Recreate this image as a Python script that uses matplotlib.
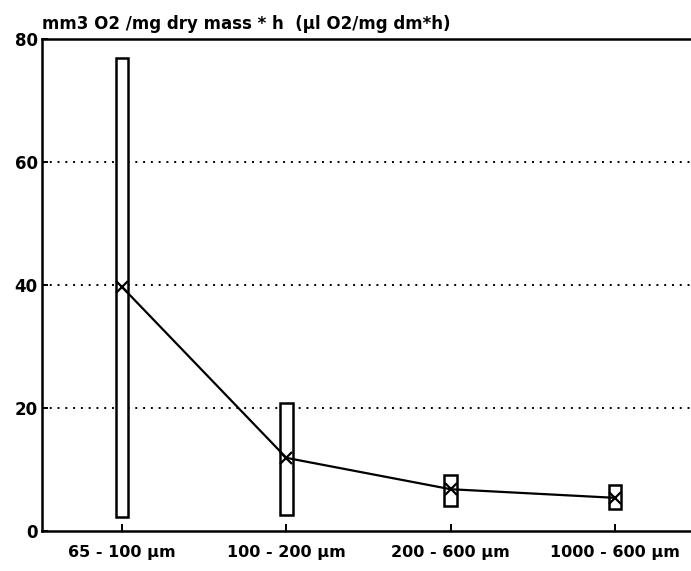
import matplotlib.pyplot as plt

# size classes and oxygen consumption (mm3 O2 / mg dry mass * h)
categories = ["65 - 100 \u00b5m", "100 - 200 \u00b5m", "200 - 600 \u00b5m", "1000 - 600 \u00b5m"]
range_low = [2.3, 2.6, 4.1, 3.6]
range_high = [76.9, 20.8, 9.1, 7.5]
means = [39.7, 11.9, 6.8, 5.4]

plt.rcParams['font.family'] = ['DejaVu Sans']

fig = plt.figure(figsize=(6.91, 5.71), dpi=100)
ax = fig.add_axes([0.0608, 0.070, 0.9392, 0.8613])

x = list(range(len(categories)))
heights = [h - l for h, l in zip(range_high, range_low)]

# range boxes
ax.bar(x, heights, bottom=range_low, width=0.078, facecolor='white',
       edgecolor='black', linewidth=1.8, zorder=2)

# mean line with cross markers
ax.plot(x, means, color='black', linewidth=1.6, marker='x', markersize=9,
        markeredgewidth=1.6, zorder=3)

ax.set_xlim(-0.487, 3.462)
ax.set_ylim(0, 80)
ax.set_yticks([0, 20, 40, 60, 80])
ax.set_xticks(x)
ax.set_xticklabels(categories, fontweight='bold')
for lbl in ax.get_yticklabels():
    lbl.set_fontweight('bold')

for y in [20, 40, 60]:
    ax.axhline(y, color='black', linestyle=(0, (1, 3)), linewidth=1.4, zorder=1)

ax.spines['right'].set_visible(False)
for s in ['left', 'top', 'bottom']:
    ax.spines[s].set_linewidth(1.8)

ax.tick_params(axis='x', direction='in', length=5, width=1.4, labelsize=11.5, pad=10)
ax.tick_params(axis='y', direction='in', length=4, width=1.4, labelsize=12, pad=3)

ax.text(0.0, 1.012, "mm3 O2 /mg dry mass * h  (\u00b5l O2/mg dm*h)", transform=ax.transAxes,
        fontsize=12, fontweight='bold', ha='left', va='bottom')

fig.savefig('out.png', dpi=100)
